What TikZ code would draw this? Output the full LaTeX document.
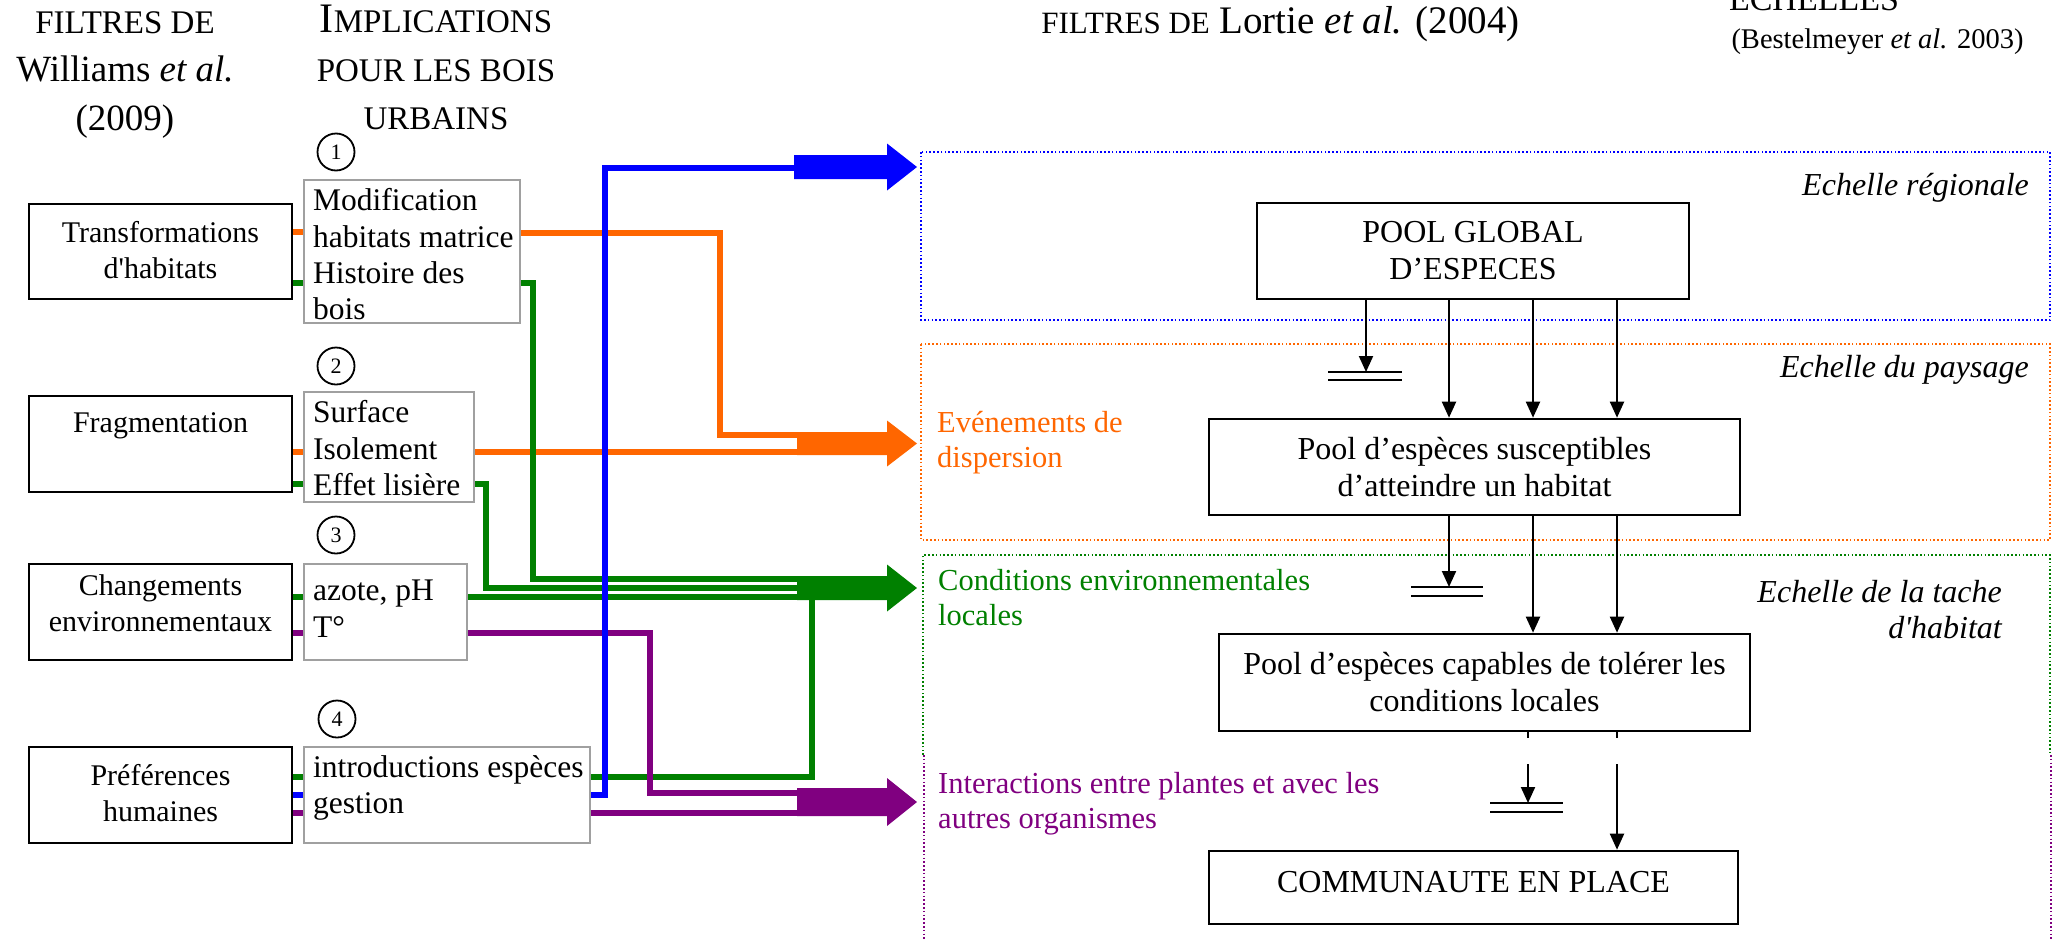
\documentclass[tikz,border=0pt]{standalone}
\usepackage{fontspec}
\setmainfont{Liberation Serif}
\usetikzlibrary{arrows.meta}
\definecolor{cOr}{RGB}{255,102,0}
\definecolor{cGr}{RGB}{0,128,0}
\definecolor{cBl}{RGB}{0,0,255}
\definecolor{cPu}{RGB}{128,0,128}
\definecolor{cGy}{RGB}{160,160,160}
\newcommand\fsz[2]{\fontsize{#1}{#2}\selectfont}
\newcommand\blockarrow[5]{%
  \fill[#1] (#2,{#3-#4}) -- (887,{#3-#4}) -- (887,{#3-#5}) -- (917,#3) -- (887,{#3+#5}) -- (887,{#3+#4}) -- (#2,{#3+#4}) -- cycle;}
\begin{document}
\begin{tikzpicture}[x=1pt,y=-1pt,line join=miter,
 lbox/.style={draw=black,line width=2.6pt,fill=white,inner sep=0pt},
 ibox/.style={draw=cGy,line width=2pt,fill=white,inner sep=0pt},
 rbox/.style={draw=black,line width=2.6pt,fill=white,inner sep=0pt,align=center,font=\fsz{32}{37}},
 numc/.style={draw=black,line width=1.8pt,circle,minimum size=37pt,inner sep=0pt,font=\fsz{22}{22}},
 ltxt/.style={inner sep=0pt,align=center,anchor=north,font=\fsz{30}{35.5}},
 itxt/.style={inner sep=0pt,align=left,anchor=north west,font=\fsz{31.5}{36.3}},
 clab/.style={inner sep=0pt,align=left,anchor=north west,font=\fsz{30.5}{35}},
 scal/.style={inner sep=0pt,anchor=north east,font=\fsz{32}{36}\itshape},
 hdr/.style={inner sep=0pt},
 feed/.style={line width=6pt},
 thinln/.style={line width=2pt},
 tharr/.style={line width=2pt,-{Triangle[length=16pt,width=14pt]}},
 dotz/.style={line width=1.6pt,dash pattern=on 1.6pt off 2.2pt},
]
\useasboundingbox (0,0) rectangle (2058,940);
\clip (0,0) rectangle (2058,940);

% ---------- headers
\node[hdr,align=center,anchor=north,font=\fsz{37}{48.5}] (hW) at (125,11)
  {{\fsz{33}{48.5}FILTRES DE}\\Williams \textit{et al.}\\(2009)};
\node[hdr,align=center,anchor=north,font=\fsz{33}{48.5}] (hI) at (436,5)
  {{\fsz{42}{48.5}I}MPLICATIONS\\POUR LES BOIS\\URBAINS};
\node[hdr,anchor=base,font=\fsz{39}{45}] (hL) at (1280.5,33)
  {{\fsz{31}{45}FILTRES DE} Lortie \textit{et al.} (2004)};
\node[hdr,anchor=base,font=\fsz{34}{40}] (hE) at (1814,10) {ECHELLES};
\node[hdr,anchor=base,font=\fsz{28.5}{34}] (hB) at (1877.5,48) {(Bestelmeyer \textit{et al.} 2003)};

% ---------- scale zones
\draw[dotz,cBl] (921,152) rectangle (2050,320);
\draw[dotz,cOr] (921,344) rectangle (2050,540);
\draw[dotz,cGr] (923,755) -- (923,555) -- (2050,555) -- (2050,755);
\draw[dotz,cPu] (924,755) -- (924,945) (2051,755) -- (2051,945);

\node[scal] (sR) at (2029,173) {Echelle régionale};
\node[scal] (sP) at (2029,355) {Echelle du paysage};
\node[scal,align=right] (sT) at (2002,580) {Echelle de la tache\\d\textquotesingle habitat};

\node[clab,text=cOr] (lbO) at (937,411) {Evénements de\\dispersion};
\node[clab,text=cGr] (lbG) at (938,569) {Conditions environnementales\\locales};
\node[clab,text=cPu] (lbP) at (938,772) {Interactions entre plantes et avec les\\autres organismes};

% ---------- right boxes
\node[rbox,minimum width=432pt,minimum height=96pt] (pool) at (1473,251) {POOL GLOBAL\\D’ESPECES};
\node[rbox,minimum width=531pt,minimum height=96pt] (susc) at (1474.5,467) {Pool d’espèces susceptibles\\d’atteindre un habitat};
\node[rbox,minimum width=531pt,minimum height=97pt] (capa) at (1484.5,682.5) {Pool d’espèces capables de tolérer les\\conditions locales};
\node[rbox,minimum width=529pt,minimum height=73pt,text depth=12pt] (comm) at (1473.5,887.5) {COMMUNAUTE EN PLACE};

\coordinate (bar1) at (1366,372);
\coordinate (bar2) at (1449,587);
\coordinate (bar3) at (1528,803);
\coordinate (gA1) at (1528,738);
\coordinate (gA2) at (1528,764);
\coordinate (gB1) at (1617,738);
\coordinate (gB2) at (1617,764);

\draw[tharr] (pool.south -| bar1) -- (bar1);
\draw[thinln] ([xshift=-38pt]bar1) -- ([xshift=36pt]bar1) ([xshift=-38pt,yshift=-8pt]bar1) -- ([xshift=36pt,yshift=-8pt]bar1);
\foreach \x in {1449,1533,1617} \draw[tharr] (pool.south -| \x,0) -- (susc.north -| \x,0);

\draw[tharr] (susc.south -| bar2) -- (bar2);
\draw[thinln] ([xshift=-38pt]bar2) -- ([xshift=34pt]bar2) ([xshift=-38pt,yshift=-9pt]bar2) -- ([xshift=34pt,yshift=-9pt]bar2);
\foreach \x in {1533,1617} \draw[tharr] (susc.south -| \x,0) -- (capa.north -| \x,0);

\draw[thinln] (capa.south -| gA1) -- (gA1);
\draw[tharr] (gA2) -- (bar3);
\draw[thinln] ([xshift=-38pt]bar3) -- ([xshift=35pt]bar3) ([xshift=-38pt,yshift=-9pt]bar3) -- ([xshift=35pt,yshift=-9pt]bar3);
\draw[thinln] (capa.south -| gB1) -- (gB1);
\draw[tharr] (gB2) -- (comm.north -| gB2);

% ---------- left boxes
\node[lbox,minimum width=263pt,minimum height=95pt] (lb1) at (160.5,251.5) {};
\node[lbox,minimum width=263pt,minimum height=96pt] (lb2) at (160.5,444) {};
\node[lbox,minimum width=263pt,minimum height=96pt] (lb3) at (160.5,612) {};
\node[lbox,minimum width=263pt,minimum height=96pt] (lb4) at (160.5,795) {};
\node[ltxt] (lt1) at (160.5,221.5) {Transformations\\d\textquotesingle habitats};
\node[ltxt] (lt2) at (160.5,412.5) {Fragmentation};
\node[ltxt] (lt3) at (160.5,574.5) {Changements\\environnementaux};
\node[ltxt] (lt4) at (160.5,764.5) {Préférences\\humaines};

% ---------- implication boxes
\node[ibox,minimum width=216pt,minimum height=143pt] (ib1) at (412,251.5) {};
\node[ibox,minimum width=170pt,minimum height=110pt] (ib2) at (389,447) {};
\node[ibox,minimum width=163pt,minimum height=96pt] (ib3) at (385.5,612) {};
\node[ibox,minimum width=286pt,minimum height=96pt] (ib4) at (447,795) {};
\node[itxt] (it1) at (313,188.5) {Modification\\habitats matrice\\Histoire des\\bois};
\node[itxt] (it2) at (313,400.5) {Surface\\Isolement\\Effet lisière};
\node[itxt] (it3) at (313,580) {azote, pH\\T°};
\node[itxt] (it4) at (313,755.5) {introductions espèces\\gestion};

\node[numc] (n1) at (336,152) {1};
\node[numc] (n2) at (336,366) {2};
\node[numc] (n3) at (336,535) {3};
\node[numc] (n4) at (337,719) {4};

% ---------- arrow targets
\coordinate (aB) at (800,167);
\coordinate (aO) at (800,443.5);
\coordinate (aG) at (800,588);
\coordinate (aP) at (800,802);

% orange
\draw[feed,cOr] (lb1.east |- 0,232) -- (ib1.west |- 0,232);
\draw[feed,cOr] (ib1.east |- 0,233) -- (720,233) -- (720,435) -- (aO |- 0,435);
\draw[feed,cOr] (lb2.east |- 0,452) -- (ib2.west |- 0,452);
\draw[feed,cOr] (ib2.east |- 0,452) -- (aO |- 0,452);
% green
\draw[feed,cGr] (lb1.east |- 0,283) -- (ib1.west |- 0,283);
\draw[feed,cGr] (ib1.east |- 0,283) -- (533,283) -- (533,579) -- (aG |- 0,579);
\draw[feed,cGr] (lb2.east |- 0,484) -- (ib2.west |- 0,484);
\draw[feed,cGr] (ib2.east |- 0,484) -- (486,484) -- (486,588) -- (aG |- 0,588);
\draw[feed,cGr] (lb3.east |- 0,597) -- (ib3.west |- 0,597);
\draw[feed,cGr] (ib3.east |- 0,597) -- (aG |- 0,597);
\draw[feed,cGr] (lb4.east |- 0,777) -- (ib4.west |- 0,777);
\draw[feed,cGr] (ib4.east |- 0,777) -- (812,777) -- (812,596);
% purple
\draw[feed,cPu] (lb3.east |- 0,633) -- (ib3.west |- 0,633);
\draw[feed,cPu] (ib3.east |- 0,633) -- (650,633) -- (650,793) -- (aP |- 0,793);
\draw[feed,cPu] (lb4.east |- 0,813) -- (ib4.west |- 0,813);
\draw[feed,cPu] (ib4.east |- 0,813) -- (aP |- 0,813);
% blue
\draw[feed,cBl] (lb4.east |- 0,795) -- (ib4.west |- 0,795);
\draw[feed,cBl] (ib4.east |- 0,795) -- (605,795) -- (605,168) -- (aB |- 0,168);

% block arrows
\blockarrow{cBl}{794}{167}{12}{23.5}
\blockarrow{cOr}{797}{443.5}{11.5}{23}
\blockarrow{cGr}{797}{588}{12}{23.5}
\blockarrow{cPu}{797}{802}{14}{24}
\end{tikzpicture}
\end{document}
